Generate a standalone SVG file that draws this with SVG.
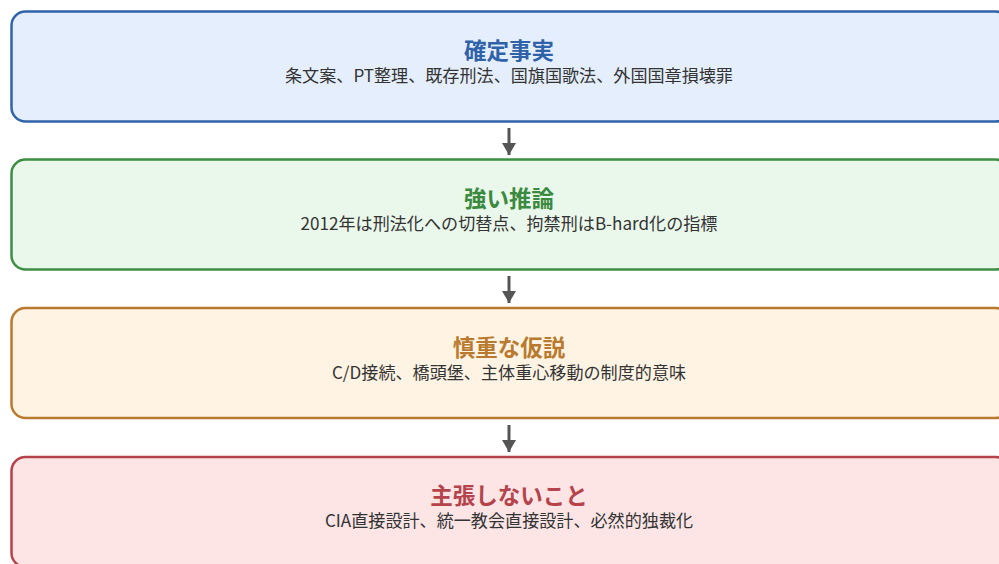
<svg xmlns="http://www.w3.org/2000/svg" width="999" height="564" viewBox="0 0 999 564">
<style>
.box{stroke-width:2.5}
.t{font-family:"Noto Sans CJK JP","Noto Sans",sans-serif;font-weight:bold;font-size:22.5px;text-anchor:middle}
.s{font-family:"Noto Sans CJK JP","Noto Sans",sans-serif;font-size:17.1px;fill:#333;text-anchor:middle}
.c{stroke:#555;stroke-width:3;fill:none}
</style>
<defs>
<marker id="ah" markerWidth="12" markerHeight="14" refX="12" refY="7" orient="auto" markerUnits="userSpaceOnUse">
<path d="M0,0 L12,7 L0,14 Z" fill="#555"/>
</marker>
</defs>
<rect width="999" height="564" fill="#fff"/>
<g id="n1">
<rect class="box" x="11.5" y="11.5" width="998" height="110" rx="14" fill="#e4eefd" stroke="#3063a8"/>
<text class="t" x="509" y="59" fill="#2f62a8">確定事実</text>
<text class="s" x="509" y="82">条文案、PT整理、既存刑法、国旗国歌法、外国国章損壊罪</text>
</g>
<g id="n2">
<rect class="box" x="11.5" y="159.5" width="998" height="110" rx="14" fill="#eaf7eb" stroke="#3e8e44"/>
<text class="t" x="509" y="207" fill="#3a8a3f">強い推論</text>
<text class="s" x="509" y="230">2012年は刑法化への切替点、拘禁刑はB-hard化の指標</text>
</g>
<g id="n3">
<rect class="box" x="11.5" y="308" width="998" height="110" rx="14" fill="#fff4e3" stroke="#b97a2f"/>
<text class="t" x="509" y="356" fill="#b97a2f">慎重な仮説</text>
<text class="s" x="509" y="379">C/D接続、橋頭堡、主体重心移動の制度的意味</text>
</g>
<g id="n4">
<rect class="box" x="11.5" y="457" width="998" height="110" rx="14" fill="#fde5e6" stroke="#b5434b"/>
<text class="t" x="509" y="504" fill="#b5434b">主張しないこと</text>
<text class="s" x="509" y="527">CIA直接設計、統一教会直接設計、必然的独裁化</text>
</g>
<g id="connectors">
<line class="c" x1="509" y1="128" x2="509" y2="155" marker-end="url(#ah)"/>
<line class="c" x1="509" y1="276" x2="509" y2="303" marker-end="url(#ah)"/>
<line class="c" x1="509" y1="425" x2="509" y2="452" marker-end="url(#ah)"/>
</g>
</svg>
